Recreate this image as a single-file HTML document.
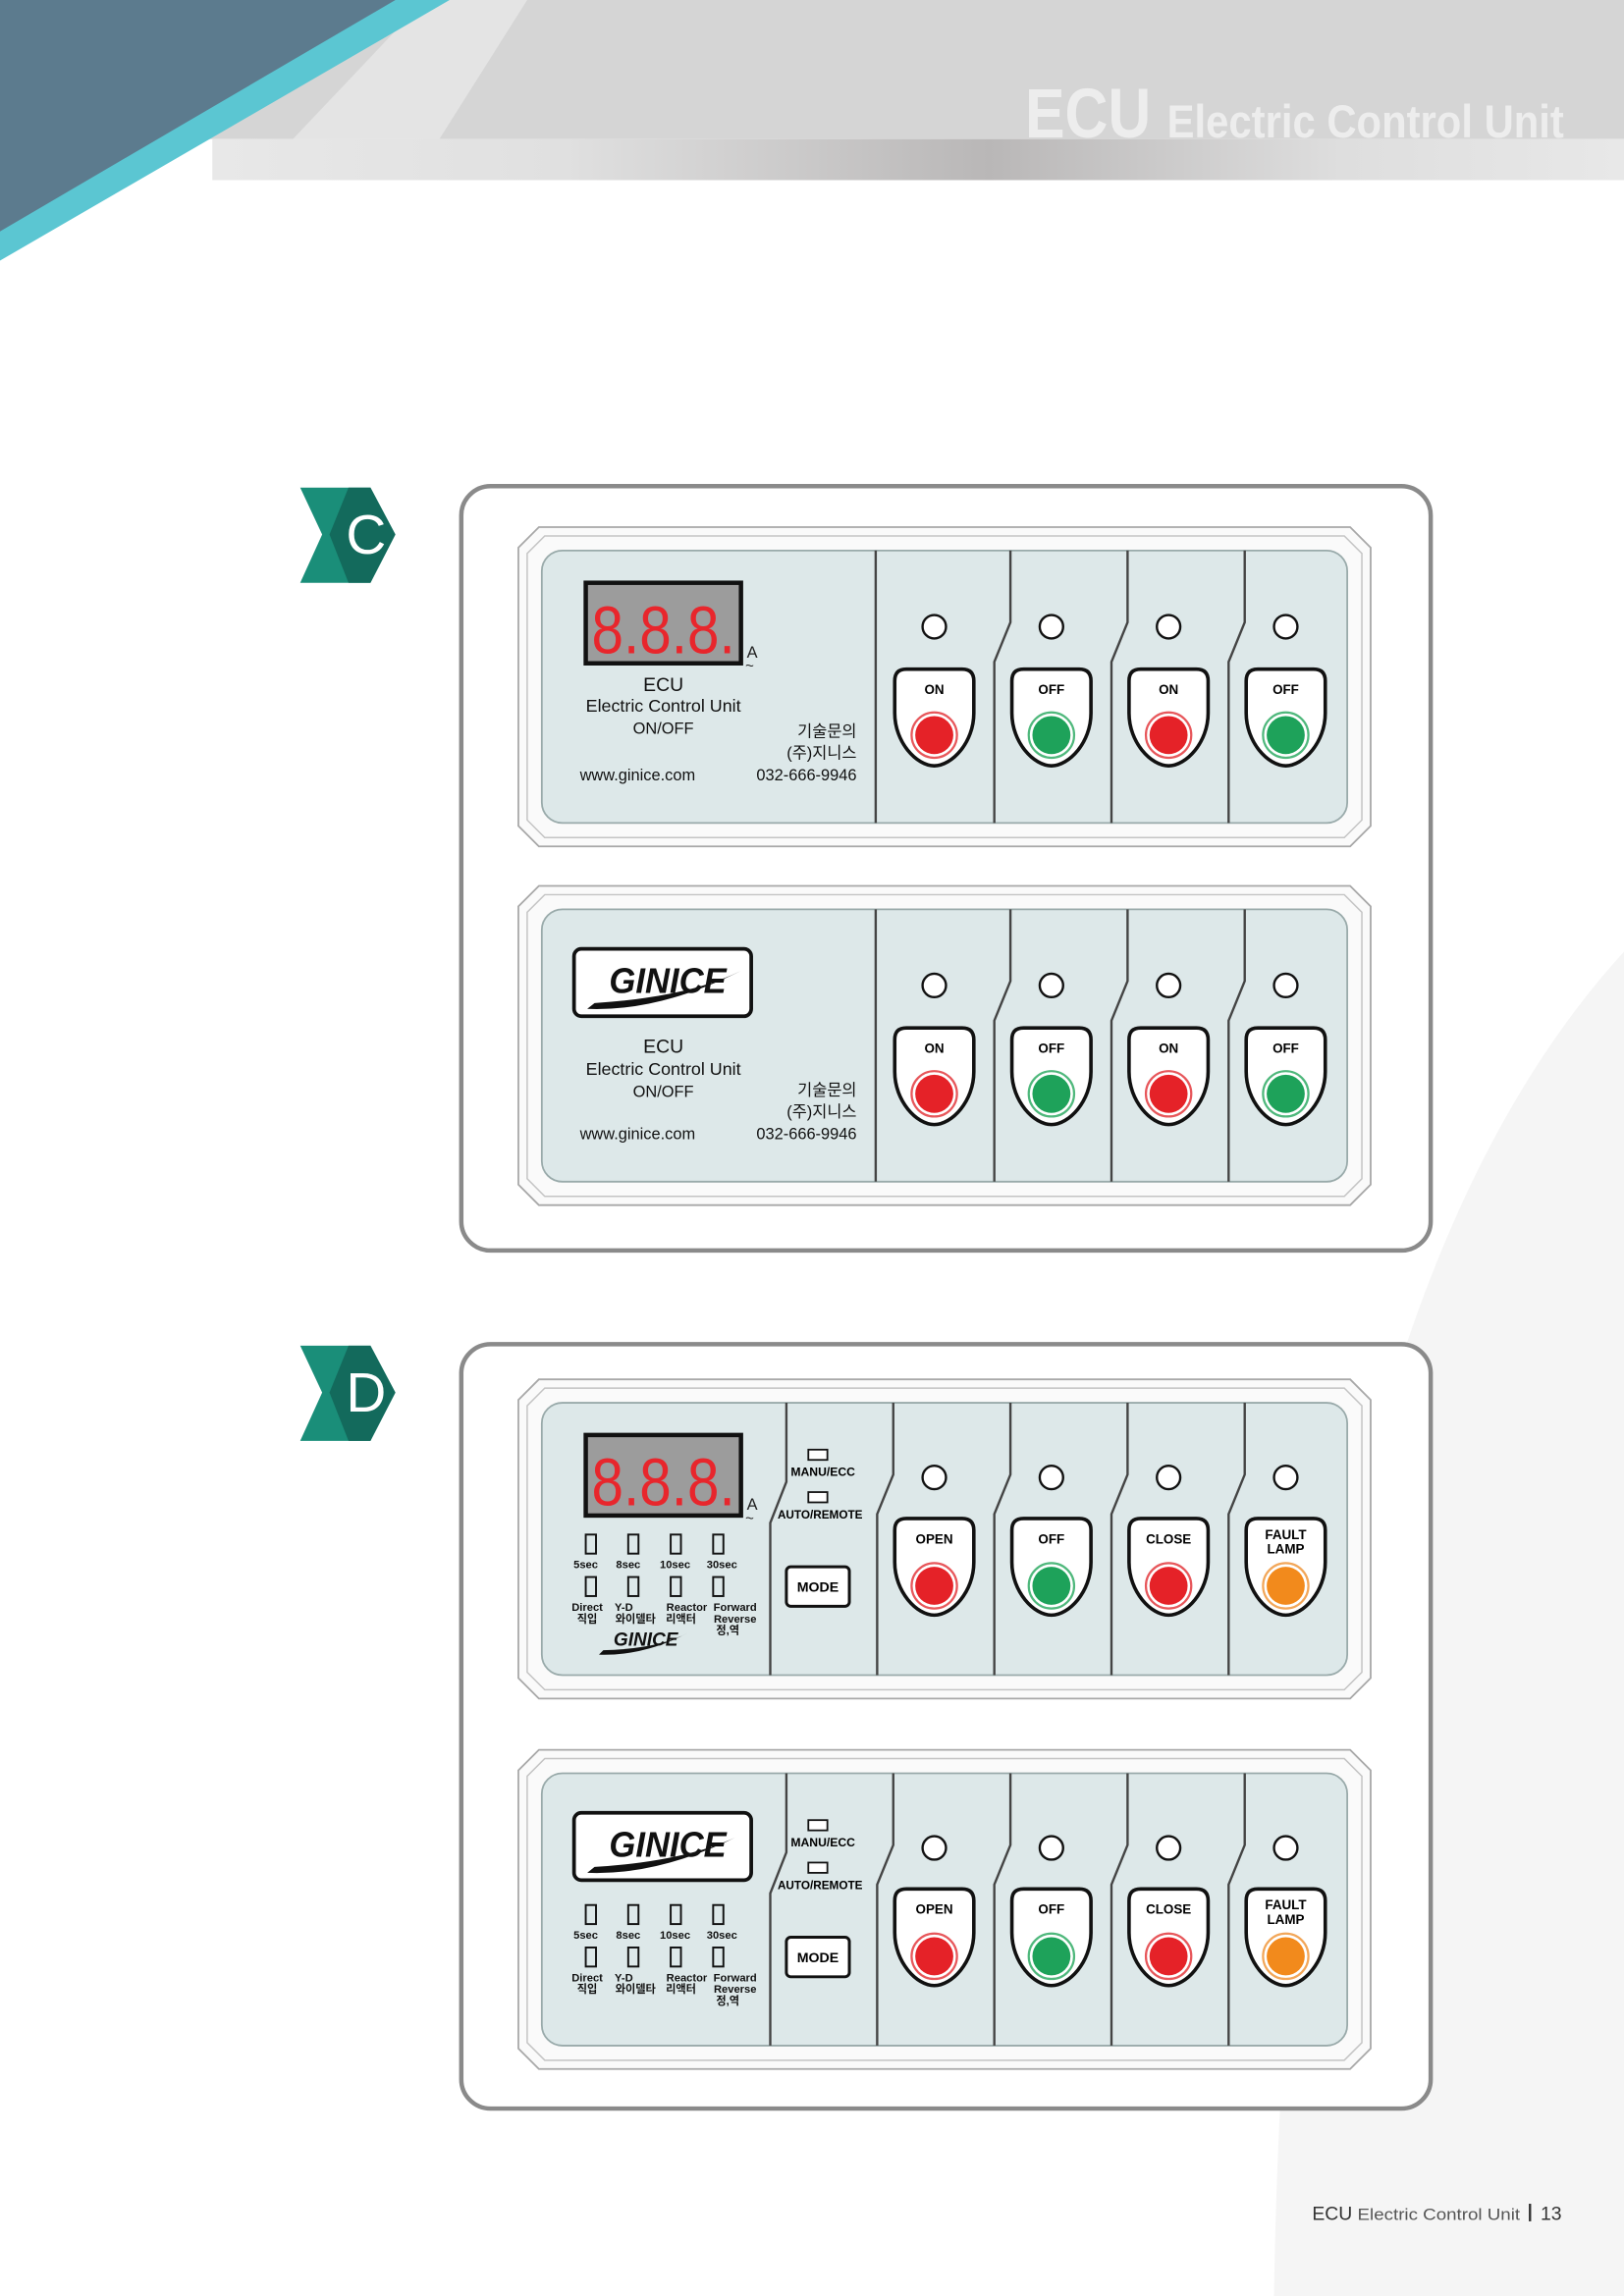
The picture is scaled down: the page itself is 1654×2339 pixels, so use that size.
<!DOCTYPE html>
<html><head><meta charset="utf-8">
<style>
html,body{margin:0;padding:0;background:#fff;}
svg{display:block;}
text{font-family:"Liberation Sans","Noto Sans CJK KR",sans-serif;}
</style></head>
<body>
<svg width="1654" height="2339" viewBox="0 0 1109 1568" preserveAspectRatio="none" xmlns="http://www.w3.org/2000/svg">
<defs>
  <linearGradient id="shad" x1="0" y1="0" x2="1" y2="0">
    <stop offset="0" stop-color="#e8e8e8"/>
    <stop offset="0.25" stop-color="#e0e0e0"/>
    <stop offset="0.55" stop-color="#b9b7b7"/>
    <stop offset="0.8" stop-color="#dedede"/>
    <stop offset="1" stop-color="#e8e8e8"/>
  </linearGradient>
  <g id="frame">
    <polygon points="368,360 922,360 936,374 936,564 922,578 368,578 354,564 354,374" fill="#fafafa" stroke="#a8a8a8" stroke-width="1.2"/>
    <polygon points="372,366 918,366 930,378 930,560 918,572 372,572 360,560 360,378" fill="none" stroke="#c4c4c4" stroke-width="1"/>
    <rect x="370" y="376" width="550" height="186" rx="14" fill="#dde8e9" stroke="#9aa" stroke-width="1.2"/>
  </g>
  <path id="btn" d="M-27,8 Q-27,0 -19,0 L19,0 Q27,0 27,8 L27,30 C27,50 12,66 0,66 C-12,66 -27,50 -27,30 Z" fill="#fff" stroke="#111" stroke-width="2.4"/>
  <g id="red"><circle r="15.5" fill="#fff" stroke="#e7575b" stroke-width="1.5"/><circle r="13" fill="#e52228"/></g>
  <g id="grn"><circle r="15.5" fill="#fff" stroke="#4fb87c" stroke-width="1.5"/><circle r="13" fill="#1ea25a"/></g>
  <g id="org"><circle r="15.5" fill="#fff" stroke="#f2a75a" stroke-width="1.5"/><circle r="13" fill="#f28a1c"/></g>
  <circle id="ind" r="8" fill="#fff" stroke="#111" stroke-width="1.6"/>
  <g id="divs">
    <line x1="598" y1="376" x2="598" y2="562" stroke="#444" stroke-width="1.6"/>
    <polyline points="690,376 690,425 679,452 679,562" fill="none" stroke="#444" stroke-width="1.6"/>
    <polyline points="770,376 770,425 759,452 759,562" fill="none" stroke="#444" stroke-width="1.6"/>
    <polyline points="850,376 850,425 839,452 839,562" fill="none" stroke="#444" stroke-width="1.6"/>
  </g>
  <g id="divs2">
    <polyline points="537,376 537,430 526,458 526,562" fill="none" stroke="#444" stroke-width="1.6"/>
    <polyline points="610,376 610,425 599,452 599,562" fill="none" stroke="#444" stroke-width="1.6"/>
    <polyline points="690,376 690,425 679,452 679,562" fill="none" stroke="#444" stroke-width="1.6"/>
    <polyline points="770,376 770,425 759,452 759,562" fill="none" stroke="#444" stroke-width="1.6"/>
    <polyline points="850,376 850,425 839,452 839,562" fill="none" stroke="#444" stroke-width="1.6"/>
  </g>
  <g id="led">
    <rect x="400" y="398" width="106" height="55" fill="#9c9c9c" stroke="#111" stroke-width="3"/>
    <text x="453" y="446" font-size="46" fill="#e8262c" text-anchor="middle" textLength="98" lengthAdjust="spacingAndGlyphs" font-family="'Liberation Sans Narrow','Liberation Sans',sans-serif">8.8.8.</text>
    <text x="510" y="449" font-size="11" fill="#222">A</text>
    <text x="509" y="458" font-size="10" fill="#222">~</text>
  </g>
  <g id="logo">
    <rect x="392" y="403" width="121" height="46" rx="5" fill="#fff" stroke="#111" stroke-width="2.5"/>
    <path d="M401,444 Q450,446 506,418 Q470,436 406,440 Z" fill="#111"/>
    <text x="456" y="433" font-size="24" font-weight="bold" font-style="italic" fill="#111" text-anchor="middle" textLength="80" lengthAdjust="spacingAndGlyphs">GINICE</text>
  </g>
</defs>

<!-- background pale shapes -->
<path d="M870,1568 Q880,900 1109,650 L1109,1568 Z" fill="#f5f5f5"/>

<!-- header -->
<rect x="0" y="0" width="1109" height="95" fill="#d5d5d5"/>
<rect x="145" y="95" width="964" height="28" fill="url(#shad)"/>
<polygon points="290,0 360,0 300,95 200,95" fill="#e4e4e4"/>
<polygon points="0,0 307,0 0,178" fill="#5bc6d2"/>
<polygon points="0,0 270,0 0,158" fill="#5c7b8e"/>
<text x="700" y="94" font-size="48" font-weight="bold" fill="#ededed" font-family="'Liberation Sans Narrow','Liberation Sans',sans-serif" textLength="86" lengthAdjust="spacingAndGlyphs">ECU</text>
<text x="797" y="94" font-size="32" font-weight="bold" fill="#ededed" textLength="271" lengthAdjust="spacingAndGlyphs">Electric Control Unit</text>

<!-- badges -->
<g>
  <polygon points="205,333 253,333 270,365 253,398 205,398 220,365" fill="#1a8e79"/>
  <polygon points="238,333 253,333 270,365 253,398 238,398 225,365" fill="#136a5c"/>
  <text x="250" y="378" font-size="38" fill="#fff" text-anchor="middle">C</text>
</g>
<g transform="translate(0,586)">
  <polygon points="205,333 253,333 270,365 253,398 205,398 220,365" fill="#1a8e79"/>
  <polygon points="238,333 253,333 270,365 253,398 238,398 225,365" fill="#136a5c"/>
  <text x="250" y="378" font-size="38" fill="#fff" text-anchor="middle">D</text>
</g>

<!-- outer boxes -->
<rect x="315" y="332" width="662" height="522" rx="20" fill="#fff" stroke="#8a8a8a" stroke-width="3"/>
<rect x="315" y="918" width="662" height="522" rx="20" fill="#fff" stroke="#8a8a8a" stroke-width="3"/>

<!-- PANEL 1 -->
<g>
  <use href="#frame"/><use href="#divs"/>
  <use href="#led"/>
  <text x="453" y="472" font-size="13" fill="#111" text-anchor="middle">ECU</text>
  <text x="453" y="486" font-size="12" fill="#111" text-anchor="middle">Electric Control Unit</text>
  <text x="453" y="501" font-size="11" fill="#111" text-anchor="middle">ON/OFF</text>
  <text x="585" y="503" font-size="11" fill="#111" text-anchor="end">기술문의</text>
  <text x="585" y="518" font-size="11" fill="#111" text-anchor="end">(주)지니스</text>
  <text x="396" y="533" font-size="11" fill="#111">www.ginice.com</text>
  <text x="585" y="533" font-size="11" fill="#111" text-anchor="end">032-666-9946</text>
  <use href="#ind" x="638" y="428"/><use href="#ind" x="718" y="428"/><use href="#ind" x="798" y="428"/><use href="#ind" x="878" y="428"/>
  <use href="#btn" x="638" y="457"/><use href="#btn" x="718" y="457"/><use href="#btn" x="798" y="457"/><use href="#btn" x="878" y="457"/>
  <text x="638" y="474" font-size="9" font-weight="bold" text-anchor="middle">ON</text>
  <text x="718" y="474" font-size="9" font-weight="bold" text-anchor="middle">OFF</text>
  <text x="798" y="474" font-size="9" font-weight="bold" text-anchor="middle">ON</text>
  <text x="878" y="474" font-size="9" font-weight="bold" text-anchor="middle">OFF</text>
  <use href="#red" x="638" y="502"/><use href="#grn" x="718" y="502"/><use href="#red" x="798" y="502"/><use href="#grn" x="878" y="502"/>
</g>

<!-- PANEL 2 -->
<g transform="translate(0,245)">
  <use href="#frame"/><use href="#divs"/>
  <use href="#logo"/>
  <text x="453" y="474" font-size="13" fill="#111" text-anchor="middle">ECU</text>
  <text x="453" y="489" font-size="12" fill="#111" text-anchor="middle">Electric Control Unit</text>
  <text x="453" y="504" font-size="11" fill="#111" text-anchor="middle">ON/OFF</text>
  <text x="585" y="503" font-size="11" fill="#111" text-anchor="end">기술문의</text>
  <text x="585" y="518" font-size="11" fill="#111" text-anchor="end">(주)지니스</text>
  <text x="396" y="533" font-size="11" fill="#111">www.ginice.com</text>
  <text x="585" y="533" font-size="11" fill="#111" text-anchor="end">032-666-9946</text>
  <use href="#ind" x="638" y="428"/><use href="#ind" x="718" y="428"/><use href="#ind" x="798" y="428"/><use href="#ind" x="878" y="428"/>
  <use href="#btn" x="638" y="457"/><use href="#btn" x="718" y="457"/><use href="#btn" x="798" y="457"/><use href="#btn" x="878" y="457"/>
  <text x="638" y="474" font-size="9" font-weight="bold" text-anchor="middle">ON</text>
  <text x="718" y="474" font-size="9" font-weight="bold" text-anchor="middle">OFF</text>
  <text x="798" y="474" font-size="9" font-weight="bold" text-anchor="middle">ON</text>
  <text x="878" y="474" font-size="9" font-weight="bold" text-anchor="middle">OFF</text>
  <use href="#red" x="638" y="502"/><use href="#grn" x="718" y="502"/><use href="#red" x="798" y="502"/><use href="#grn" x="878" y="502"/>
</g>

<!-- PANEL 3 -->
<g transform="translate(0,582)">
  <use href="#frame"/><use href="#divs2"/>
  <use href="#led"/>
  <g fill="none" stroke="#111" stroke-width="1.3">
    <rect x="400" y="466" width="7" height="13"/><rect x="429" y="466" width="7" height="13"/><rect x="458" y="466" width="7" height="13"/><rect x="487" y="466" width="7" height="13"/>
    <rect x="400" y="495" width="7" height="13"/><rect x="429" y="495" width="7" height="13"/><rect x="458" y="495" width="7" height="13"/><rect x="487" y="495" width="7" height="13"/>
  </g>
  <g font-size="7.5" font-weight="bold" fill="#111" text-anchor="middle">
    <text x="400" y="489">5sec</text><text x="429" y="489">8sec</text><text x="461" y="489">10sec</text><text x="493" y="489">30sec</text>
    <text x="401" y="518">Direct</text><text x="401" y="526">직입</text>
    <text x="426" y="518">Y-D</text><text x="434" y="526">와이델타</text>
    <text x="469" y="518">Reactor</text><text x="465" y="526">리액터</text>
    <text x="502" y="518">Forward</text><text x="502" y="526">Reverse</text><text x="497" y="534">정,역</text>
  </g>
  <path d="M409,548 Q440,549 470,533 Q450,544 412,545 Z" fill="#111"/>
  <text x="441" y="542" font-size="13" font-weight="bold" font-style="italic" fill="#111" text-anchor="middle" textLength="44" lengthAdjust="spacingAndGlyphs">GINICE</text>
  <rect x="552" y="408" width="13" height="7" fill="#fff" stroke="#111" stroke-width="1.2"/>
  <text x="562" y="426" font-size="8" font-weight="bold" text-anchor="middle" textLength="44" lengthAdjust="spacingAndGlyphs">MANU/ECC</text>
  <rect x="552" y="437" width="13" height="7" fill="#fff" stroke="#111" stroke-width="1.2"/>
  <text x="560" y="455" font-size="8" font-weight="bold" text-anchor="middle" textLength="58" lengthAdjust="spacingAndGlyphs">AUTO/REMOTE</text>
  <rect x="537" y="488" width="43" height="27" rx="3" fill="#fff" stroke="#111" stroke-width="2"/>
  <text x="558.5" y="505" font-size="9.5" font-weight="bold" text-anchor="middle">MODE</text>
  <use href="#ind" x="638" y="427"/><use href="#ind" x="718" y="427"/><use href="#ind" x="798" y="427"/><use href="#ind" x="878" y="427"/>
  <use href="#btn" x="638" y="455"/><use href="#btn" x="718" y="455"/><use href="#btn" x="798" y="455"/><use href="#btn" x="878" y="455"/>
  <text x="638" y="472" font-size="9" font-weight="bold" text-anchor="middle">OPEN</text>
  <text x="718" y="472" font-size="9" font-weight="bold" text-anchor="middle">OFF</text>
  <text x="798" y="472" font-size="9" font-weight="bold" text-anchor="middle">CLOSE</text>
  <text x="878" y="469" font-size="9" font-weight="bold" text-anchor="middle">FAULT</text>
  <text x="878" y="479" font-size="9" font-weight="bold" text-anchor="middle">LAMP</text>
  <use href="#red" x="638" y="501"/><use href="#grn" x="718" y="501"/><use href="#red" x="798" y="501"/><use href="#org" x="878" y="501"/>
</g>

<!-- PANEL 4 -->
<g transform="translate(0,835)">
  <use href="#frame"/><use href="#divs2"/>
  <use href="#logo"/>
  <g fill="none" stroke="#111" stroke-width="1.3">
    <rect x="400" y="466" width="7" height="13"/><rect x="429" y="466" width="7" height="13"/><rect x="458" y="466" width="7" height="13"/><rect x="487" y="466" width="7" height="13"/>
    <rect x="400" y="495" width="7" height="13"/><rect x="429" y="495" width="7" height="13"/><rect x="458" y="495" width="7" height="13"/><rect x="487" y="495" width="7" height="13"/>
  </g>
  <g font-size="7.5" font-weight="bold" fill="#111" text-anchor="middle">
    <text x="400" y="489">5sec</text><text x="429" y="489">8sec</text><text x="461" y="489">10sec</text><text x="493" y="489">30sec</text>
    <text x="401" y="518">Direct</text><text x="401" y="526">직입</text>
    <text x="426" y="518">Y-D</text><text x="434" y="526">와이델타</text>
    <text x="469" y="518">Reactor</text><text x="465" y="526">리액터</text>
    <text x="502" y="518">Forward</text><text x="502" y="526">Reverse</text><text x="497" y="534">정,역</text>
  </g>
  <rect x="552" y="408" width="13" height="7" fill="#fff" stroke="#111" stroke-width="1.2"/>
  <text x="562" y="426" font-size="8" font-weight="bold" text-anchor="middle" textLength="44" lengthAdjust="spacingAndGlyphs">MANU/ECC</text>
  <rect x="552" y="437" width="13" height="7" fill="#fff" stroke="#111" stroke-width="1.2"/>
  <text x="560" y="455" font-size="8" font-weight="bold" text-anchor="middle" textLength="58" lengthAdjust="spacingAndGlyphs">AUTO/REMOTE</text>
  <rect x="537" y="488" width="43" height="27" rx="3" fill="#fff" stroke="#111" stroke-width="2"/>
  <text x="558.5" y="505" font-size="9.5" font-weight="bold" text-anchor="middle">MODE</text>
  <use href="#ind" x="638" y="427"/><use href="#ind" x="718" y="427"/><use href="#ind" x="798" y="427"/><use href="#ind" x="878" y="427"/>
  <use href="#btn" x="638" y="455"/><use href="#btn" x="718" y="455"/><use href="#btn" x="798" y="455"/><use href="#btn" x="878" y="455"/>
  <text x="638" y="472" font-size="9" font-weight="bold" text-anchor="middle">OPEN</text>
  <text x="718" y="472" font-size="9" font-weight="bold" text-anchor="middle">OFF</text>
  <text x="798" y="472" font-size="9" font-weight="bold" text-anchor="middle">CLOSE</text>
  <text x="878" y="469" font-size="9" font-weight="bold" text-anchor="middle">FAULT</text>
  <text x="878" y="479" font-size="9" font-weight="bold" text-anchor="middle">LAMP</text>
  <use href="#red" x="638" y="501"/><use href="#grn" x="718" y="501"/><use href="#red" x="798" y="501"/><use href="#org" x="878" y="501"/>
</g>

<!-- footer -->
<text x="896" y="1516" font-size="13" fill="#333">ECU</text>
<text x="927" y="1516" font-size="11" fill="#555" textLength="111" lengthAdjust="spacingAndGlyphs">Electric Control Unit</text>
<rect x="1044" y="1505" width="1.6" height="12" fill="#333"/>
<text x="1052" y="1516" font-size="13" fill="#333">13</text>
</svg>
</body></html>
